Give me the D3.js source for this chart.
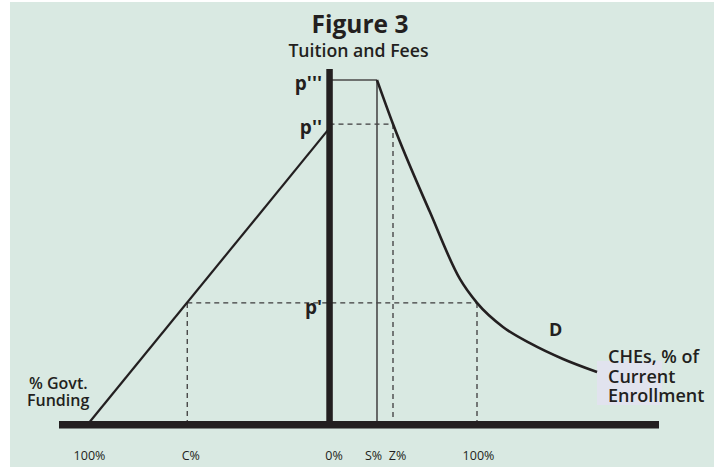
<!DOCTYPE html>
<html>
<head>
<meta charset="utf-8">
<script src="https://cdn.jsdelivr.net/npm/d3@7"></script>
<style>
  html, body { margin: 0; padding: 0; background: #ffffff; }
  svg { display: block; font-family: "Open Sans", "Noto Sans", sans-serif; }
</style>
</head>
<body>
<svg id="graph" width="717" height="467"></svg>
<script>
// supply (govt funding) line: % govt funding -> price
const supplyGovt = [100, 0];
const supplyPrice = [0, 86];

// demand curve D: % of current enrollment -> price
const demandEnroll = [32.2, 43.05, 68.1, 88.5, 100, 117.6, 135.9, 158.3, 181.4];
const demandPrice = [100, 87.2, 61.6, 42.1, 35.2, 28.2, 23.5, 18.9, 15.1];

// price levels on the vertical axis
const priceLabels = ["p'", "p''", "p'''"];
const priceValues = [35.2, 87.2, 100];

// marked positions on the horizontal axis
const cGovt = 58.9;
const sEnroll = 32.2;
const zEnroll = 43.05;
const govtTicks = [100, cGovt];
const govtTickLabels = ["100%", "C%"];
const enrollTicks = [0, sEnroll, zEnroll, 100];
const enrollTickLabels = ["0%", "S%", "Z%", "100%"];

const graph = d3.select("#graph");
const ink = "#231f20";

graph.append("rect")
  .attr("x", 10).attr("y", 2)
  .attr("width", 704).attr("height", 465)
  .attr("fill", "#d9e9e2");

const xGovt = d3.scaleLinear().domain([100, 0]).range([88, 329.5]);
const xEnroll = d3.scaleLinear().domain([0, 100]).range([329.5, 477]);
const yPrice = d3.scaleLinear().domain([0, 100]).range([424, 80]);

// lavender highlight behind axis title
graph.append("rect")
  .attr("x", 597).attr("y", 361)
  .attr("width", 65).attr("height", 44)
  .attr("fill", "#e1e3ee");

// dashed guides
const guides = graph.append("g")
  .attr("stroke", "#3d3b3c")
  .attr("stroke-width", 1.3)
  .attr("stroke-dasharray", "5,4")
  .attr("fill", "none");

guides.append("line")
  .attr("x1", xGovt(cGovt)).attr("x2", xEnroll(100))
  .attr("y1", yPrice(priceValues[0])).attr("y2", yPrice(priceValues[0]));
guides.append("line")
  .attr("x1", xGovt(cGovt)).attr("x2", xGovt(cGovt))
  .attr("y1", yPrice(priceValues[0])).attr("y2", yPrice(0));
guides.append("line")
  .attr("x1", xEnroll(100)).attr("x2", xEnroll(100))
  .attr("y1", yPrice(priceValues[0])).attr("y2", yPrice(0));
guides.append("line")
  .attr("x1", xEnroll(0)).attr("x2", xEnroll(zEnroll))
  .attr("y1", yPrice(priceValues[1])).attr("y2", yPrice(priceValues[1]));
guides.append("line")
  .attr("x1", xEnroll(zEnroll)).attr("x2", xEnroll(zEnroll))
  .attr("y1", yPrice(priceValues[1])).attr("y2", yPrice(0));

// p''' line and S% line
graph.append("line")
  .attr("x1", xEnroll(0)).attr("x2", xEnroll(sEnroll))
  .attr("y1", yPrice(100)).attr("y2", yPrice(100))
  .attr("stroke", "#4a4849").attr("stroke-width", 1.6);
graph.append("line")
  .attr("x1", xEnroll(sEnroll)).attr("x2", xEnroll(sEnroll))
  .attr("y1", yPrice(100)).attr("y2", yPrice(0))
  .attr("stroke", "#4a4849").attr("stroke-width", 1.6);

// supply line
graph.append("line")
  .attr("x1", xGovt(supplyGovt[0])).attr("y1", yPrice(supplyPrice[0]))
  .attr("x2", xGovt(supplyGovt[1])).attr("y2", yPrice(supplyPrice[1]))
  .attr("stroke", ink).attr("stroke-width", 2.2);

// demand curve
const demandLine = d3.line()
  .x(d => xEnroll(d[0]))
  .y(d => yPrice(d[1]))
  .curve(d3.curveMonotoneX);
graph.append("path")
  .datum(demandEnroll.map((e, i) => [e, demandPrice[i]]))
  .attr("d", demandLine)
  .attr("fill", "none")
  .attr("stroke", ink)
  .attr("stroke-width", 2.6);

// axes
graph.append("rect")
  .attr("x", 59).attr("y", 421)
  .attr("width", 600).attr("height", 7.5)
  .attr("fill", ink);
graph.append("rect")
  .attr("x", 326.3).attr("y", 69)
  .attr("width", 6.5).attr("height", 355)
  .attr("fill", ink);

// bottom tick labels
const tickOffsets = { "100%": 1, "C%": 3, "0%": 4, "S%": -4, "Z%": 4 };
const bottomAxisGovt = d3.axisBottom(xGovt)
  .tickValues(govtTicks)
  .tickSize(0)
  .tickFormat((d, i) => govtTickLabels[i]);
const bottomAxisEnroll = d3.axisBottom(xEnroll)
  .tickValues(enrollTicks)
  .tickSize(0)
  .tickFormat((d, i) => enrollTickLabels[i]);

[bottomAxisGovt, bottomAxisEnroll].forEach(ax => {
  const g = graph.append("g").attr("transform", "translate(0,448)").call(ax);
  g.select(".domain").remove();
  g.selectAll("text")
    .attr("font-family", "Open Sans, sans-serif")
    .attr("font-size", 12.5)
    .attr("fill", ink)
    .attr("dy", "0.71em")
    .attr("dx", function () { return tickOffsets[this.textContent] || 2; });
});

// price labels
graph.append("g")
  .selectAll("text")
  .data(priceLabels)
  .join("text")
  .attr("x", 322)
  .attr("y", (d, i) => yPrice(priceValues[i]) + (i === 0 ? 11 : 10))
  .attr("text-anchor", "end")
  .attr("font-size", 19)
  .attr("font-weight", 700)
  .attr("fill", ink)
  .text(d => d);

// titles
graph.append("text")
  .attr("x", 360).attr("y", 33)
  .attr("text-anchor", "middle")
  .attr("font-size", 24.5)
  .attr("font-weight", 700)
  .attr("fill", ink)
  .text("Figure 3");
graph.append("text")
  .attr("x", 358.5).attr("y", 57)
  .attr("text-anchor", "middle")
  .attr("font-size", 17.7)
  .attr("font-weight", 600)
  .attr("fill", ink)
  .text("Tuition and Fees");

graph.append("text")
  .attr("x", 549).attr("y", 336)
  .attr("font-size", 18)
  .attr("font-weight", 700)
  .attr("fill", ink)
  .text("D");

// axis titles
const leftTitle = graph.append("text")
  .attr("font-size", 16)
  .attr("font-weight", 600)
  .attr("fill", ink);
leftTitle.append("tspan").attr("x", 29).attr("y", 389).text("% Govt.");
leftTitle.append("tspan").attr("x", 27).attr("y", 406).text("Funding");

const rightTitle = graph.append("text")
  .attr("font-size", 18)
  .attr("font-weight", 600)
  .attr("fill", ink);
["CHEs, % of", "Current", "Enrollment"].forEach((t, i) => {
  rightTitle.append("tspan").attr("x", 608).attr("y", 363 + i * 19.5).text(t);
});
</script>
</body>
</html>
